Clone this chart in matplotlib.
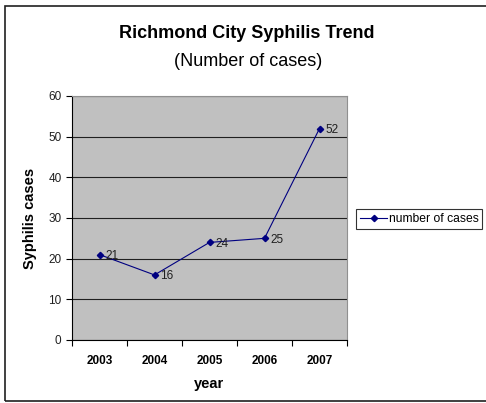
import matplotlib.pyplot as plt
from matplotlib.patches import Rectangle
from matplotlib.ticker import FixedLocator, NullFormatter

# -----------------------------------------------------------------------------
# Data
# -----------------------------------------------------------------------------
years = ["2003", "2004", "2005", "2006", "2007"]
cases = [21, 16, 24, 25, 52]
y_ticks = [0, 10, 20, 30, 40, 50, 60]

FONT = "Liberation Sans"
W, H = 486, 403
fig = plt.figure(figsize=(W / 100, H / 100), dpi=100)
fig.patch.set_facecolor("white")

# outer chart border (right edge falls outside the picture)
fig.add_artist(Rectangle((5 / W, 2 / H), 490 / W, 395 / H, transform=fig.transFigure,
                         fill=False, edgecolor="#202020", linewidth=1.2))

# plot area
left, right, top, bottom = 72, 347, 96, 340
ax = fig.add_axes([left / W, 1 - bottom / H, (right - left) / W, (bottom - top) / H])
ax.set_facecolor("#c0c0c0")

x = list(range(len(years)))
line, = ax.plot(x, cases, color="#000080", linewidth=0.8, marker="D", markersize=3.2,
                label="number of cases")
for xi, v in zip(x, cases):
    ax.annotate(str(v), (xi, v), xytext=(4, -1), textcoords="offset points",
                fontsize=8.5, va="center", ha="left", family=FONT, color="#202020")

ax.set_xlim(-0.5, len(years) - 0.5)
ax.set_ylim(0, 60)
ax.set_yticks(y_ticks)
ax.set_yticklabels([str(t) for t in y_ticks], fontsize=8.5, family=FONT, color="#202020")
ax.yaxis.grid(True, color="#202020", linewidth=0.8)
ax.set_axisbelow(True)

# ticks between categories, labels at centres
ax.xaxis.set_major_locator(FixedLocator([i - 0.5 for i in range(len(years) + 1)]))
ax.xaxis.set_major_formatter(NullFormatter())
ax.xaxis.set_minor_locator(FixedLocator(x))
ax.set_xticklabels(years, minor=True, fontsize=8.5, fontweight="bold", family=FONT)
ax.tick_params(axis="x", which="minor", length=0, pad=11)
ax.tick_params(axis="both", which="major", length=4, direction="out", width=0.8)

for side in ["top", "right"]:
    ax.spines[side].set_color("#909090")
ax.spines["left"].set_color("black")
ax.spines["bottom"].set_color("black")

ax.set_xlabel("year", fontsize=10.5, fontweight="bold", family=FONT, labelpad=7)
ax.set_ylabel("Syphilis cases", fontsize=10.5, fontweight="bold", family=FONT, labelpad=8)

fig.text(247 / W, 1 - 33 / H, "Richmond City Syphilis Trend",
         ha="center", va="center", fontsize=13, fontweight="bold", family=FONT)
fig.text(248 / W, 1 - 62 / H, "(Number of cases)",
         ha="center", va="center", fontsize=13, family=FONT)

leg = fig.legend(handles=[line], loc="center left", bbox_to_anchor=(356 / W, 1 - 219 / H),
                 frameon=True, fancybox=False, edgecolor="black",
                 handlelength=2.3, borderpad=0.3, handletextpad=0.1, borderaxespad=0,
                 prop={"family": FONT, "size": 8.7})
leg.get_frame().set_linewidth(0.8)

fig.savefig("out.png", dpi=100)
